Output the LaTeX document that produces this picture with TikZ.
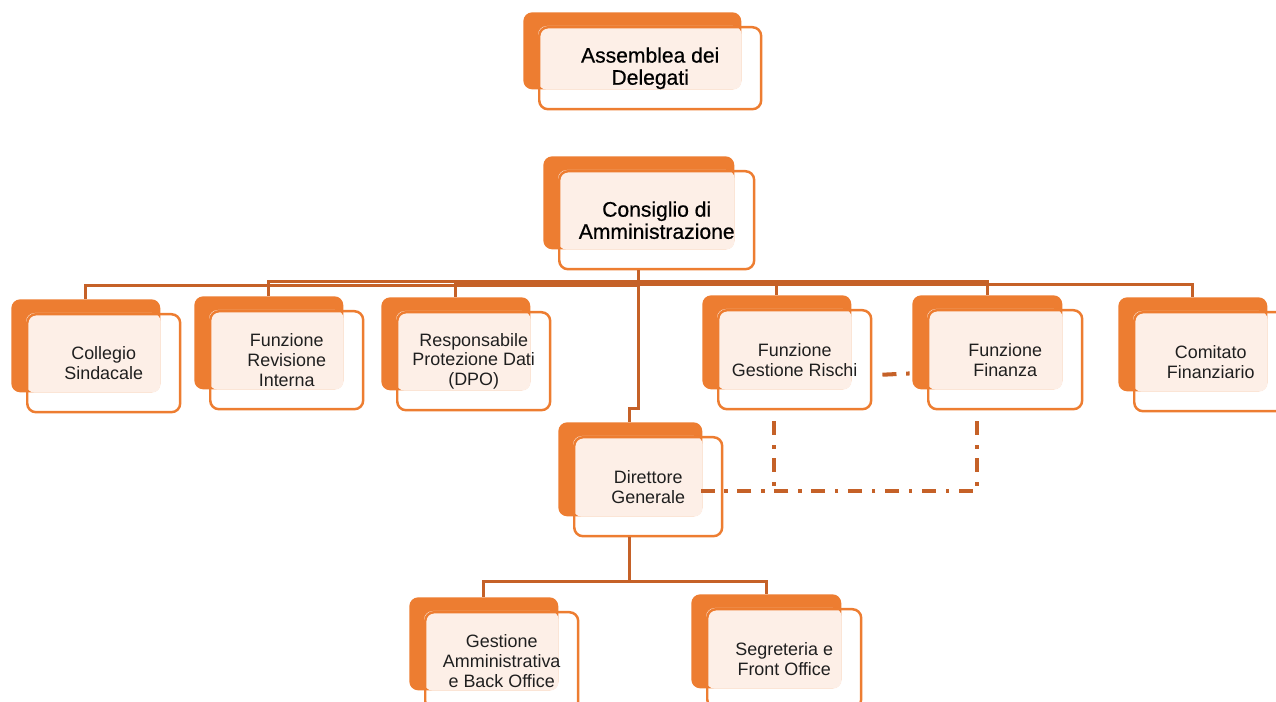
\documentclass[tikz,border=0pt]{standalone}
\usepackage{fontspec}
\setmainfont{Liberation Sans}
\newfontfamily\headfont{Liberation Sans}[FakeBold=0.6]
\usepackage{tikz}
\usetikzlibrary{shapes.geometric, positioning, calc}

\definecolor{accent}{HTML}{ED7D31}
\definecolor{cream}{HTML}{FDEFE7}
\definecolor{linkcol}{RGB}{197,97,40}

\tikzset{
  backbox/.style={fill=accent, rounded corners=5pt, inner sep=0pt, anchor=north west},
  frontbox/.style={draw=accent, line width=1.4pt, rounded corners=5pt, inner sep=0pt, anchor=north west,
    align=center, text=black!88, font=\fontsize{10.2}{11.3}\selectfont},
  headbox/.style={frontbox, text=black, font=\headfont\fontsize{12}{12.6}\selectfont},
  link/.style={draw=linkcol, line width=1.7pt},
  dotlink/.style={draw=linkcol, line width=2.3pt, dash pattern=on 8pt off 5.5pt on 2pt off 5.5pt}
}

% #1 name, #2 back top-left, #3 width, #4 height, #5 style, #6 text
\newcommand{\unitbox}[6]{
  \node[backbox, minimum width=#3, minimum height=#4] (#1-b) at #2 {};
  \coordinate (#1-nw) at ($(#1-b.north west)+(15,14)$);
  \fill[cream, rounded corners=5pt] (#1-nw) rectangle (#1-b.south east);
  \node[#5, minimum width=#3+0.08cm, minimum height=#4+0.1cm] (#1) at (#1-nw) {#6};
}

\begin{document}
\begin{tikzpicture}[x=0.02cm, y=-0.02cm]
  \useasboundingbox (0,0) rectangle (1276,702);

  \unitbox{assem}{(523,12)}{4.36cm}{1.54cm}{headbox}{Assemblea dei\\Delegati}
  \unitbox{cons}{(543,156)}{3.82cm}{1.86cm}{headbox}{Consiglio di\\Amministrazione}

  \unitbox{coll}{(11,299)}{2.98cm}{1.86cm}{frontbox}{Collegio\\Sindacale}
  \unitbox{rev}{(194,296)}{2.98cm}{1.86cm}{frontbox}{Funzione\\Revisione\\Interna}
  \unitbox{dpo}{(381,297)}{2.98cm}{1.86cm}{frontbox}{Responsabile\\Protezione Dati\\(DPO)}
  \unitbox{rischi}{(702,295)}{2.98cm}{1.88cm}{frontbox}{Funzione\\Gestione Rischi}
  \unitbox{fin}{(912,295)}{3.0cm}{1.88cm}{frontbox}{Funzione\\Finanza}
  \unitbox{comit}{(1118,297)}{2.98cm}{1.88cm}{frontbox}{Comitato\\Finanziario}

  \unitbox{dir}{(558,422)}{2.88cm}{1.88cm}{frontbox}{Direttore\\Generale}

  \unitbox{amm}{(409,597)}{2.98cm}{1.86cm}{frontbox}{Gestione\\Amministrativa\\e Back Office}
  \unitbox{seg}{(691,594)}{3.0cm}{1.88cm}{frontbox}{Segreteria e\\Front Office}

  % connectors from the board
  \coordinate (top) at (cons-b.south |- cons.south);
  \draw[link] (top) -- ++(0,15) -| (coll-b.north);
  \draw[link] (top) -- ++(0,11) -| (rev-b.north);
  \draw[link] (top) -- ++(0,13) -| (dpo-b.north);
  \draw[link] (top) -- ++(0,13) -| (rischi-b.north);
  \draw[link] (top) -- ++(0,11) -| (fin-b.north);
  \draw[link] (top) -- ++(0,14) -| (comit-b.north);
  \draw[link] (top) -- ++(0,138) -| ($(dir-b.north)+(-1,0)$);

  \coordinate (dirbot) at ($(dir-b.south |- dir.south)+(-1,0)$);
  \draw[link] (dirbot) -- ++(0,44) -| (amm-b.north);
  \draw[link] (dirbot) -- ++(0,44) -| (seg-b.north);

  % staff lines
  \draw[dotlink] ($(rischi-b.south |- rischi.south)+(-3,11)$) -- ++(0,71);
  \draw[dotlink] ($(fin-b.south |- fin.south)+(-10,11)$) |- ($(dir.east)+(-22,4)$);
  \draw[dotlink] ($(rischi.east)+(10,15)$) -- ($(fin-b.west)+(0,31)$);
\end{tikzpicture}
\end{document}
